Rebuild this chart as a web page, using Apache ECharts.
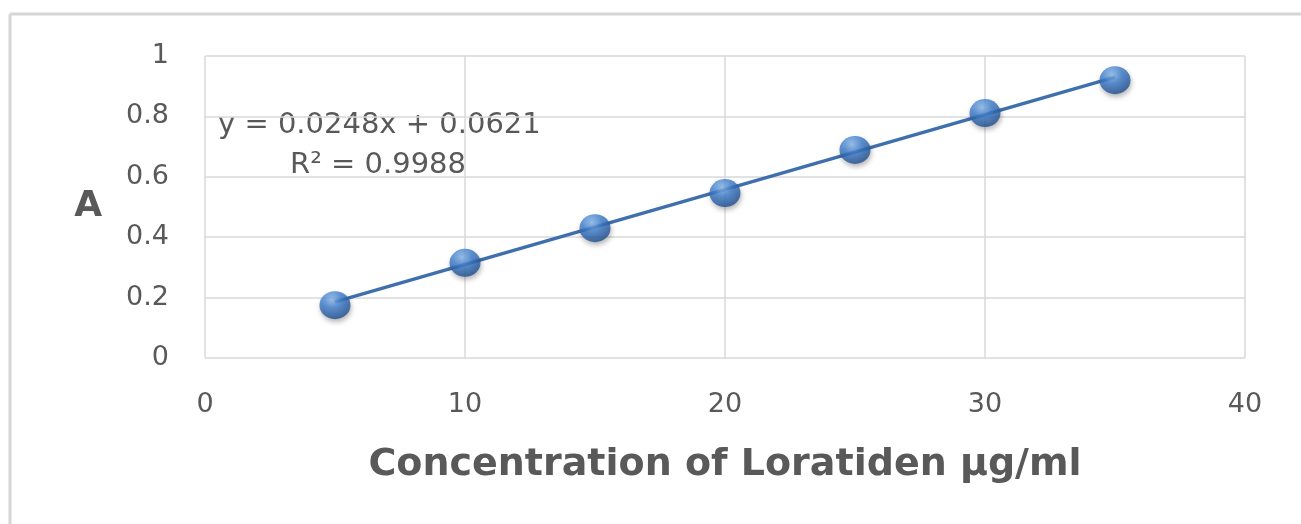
<!DOCTYPE html>
<html>
<head>
<meta charset="utf-8">
<script src="https://cdn.jsdelivr.net/npm/echarts@6/dist/echarts.min.js"></script>
<style>html,body{margin:0;padding:0;background:#fff;}#c{width:1301px;height:524px;}</style>
</head>
<body>
<div id="c"></div>
<script>
var concentration = [5, 10, 15, 20, 25, 30, 35];
var absorbance = [0.175, 0.315, 0.43, 0.546, 0.689, 0.811, 0.92];
var trendX = [5, 35];
var trendY = [0.186, 0.930];
var equationText = 'y = 0.0248x + 0.0621';
var r2Text = 'R² = 0.9988';
var xTitle = 'Concentration of Loratiden µg/ml';
var yTitle = 'A';

var chart = echarts.init(document.getElementById('c'));
var txt = '#595959';
var font = 'DejaVu Sans';
chart.setOption({
  animation: false,
  grid: {left: 205, right: 56, top: 56, bottom: 166},
  xAxis: {
    type: 'value', min: 0, max: 40, interval: 10,
    axisLine: {show: false}, axisTick: {show: false},
    splitLine: {lineStyle: {color: '#d9d9d9', width: 1.5}},
    axisLabel: {color: txt, fontSize: 27, fontFamily: font, margin: 33},
    name: xTitle, nameLocation: 'middle', nameGap: 88,
    nameTextStyle: {color: txt, fontSize: 38, fontWeight: 'bold', fontFamily: font}
  },
  yAxis: {
    type: 'value', min: 0, max: 1, interval: 0.2,
    axisLine: {show: false}, axisTick: {show: false},
    splitLine: {lineStyle: {color: '#d9d9d9', width: 1.5}},
    axisLabel: {color: txt, fontSize: 27, fontFamily: font, margin: 36},
    name: yTitle, nameLocation: 'middle', nameGap: 103, nameRotate: 0,
    nameTextStyle: {color: txt, fontSize: 36, fontWeight: 'bold', fontFamily: font}
  },
  graphic: [
    {type: 'line', shape: {x1: 10, y1: 14, x2: 1301, y2: 14}, style: {stroke: '#d6d6d6', lineWidth: 3}},
    {type: 'line', shape: {x1: 10, y1: 14, x2: 10, y2: 524}, style: {stroke: '#d6d6d6', lineWidth: 3}},
    {type: 'text', x: 218, y: 125, style: {text: equationText, fill: txt, fontSize: 29, fontFamily: font, verticalAlign: 'middle'}},
    {type: 'text', x: 290, y: 165, style: {text: r2Text, fill: txt, fontSize: 29, fontFamily: font, verticalAlign: 'middle'}}
  ],
  series: [
    {
      type: 'line', data: trendX.map(function (x, i) { return [x, trendY[i]]; }),
      showSymbol: false, lineStyle: {color: '#3f70ad', width: 3.5}, z: 2, silent: true
    },
    {
      type: 'scatter', data: concentration.map(function (x, i) { return [x, absorbance[i]]; }),
      symbol: 'circle', symbolSize: [31, 28], z: 3,
      itemStyle: {
        color: new echarts.graphic.RadialGradient(0.4, 0.3, 0.7, [
          {offset: 0, color: '#8fbdf0'},
          {offset: 0.45, color: '#3f7fcf'},
          {offset: 1, color: '#1f4f8f'}
        ]),
        shadowColor: 'rgba(0,0,0,0.35)', shadowBlur: 5, shadowOffsetX: 1, shadowOffsetY: 3
      }
    }
  ]
});
</script>
</body>
</html>
